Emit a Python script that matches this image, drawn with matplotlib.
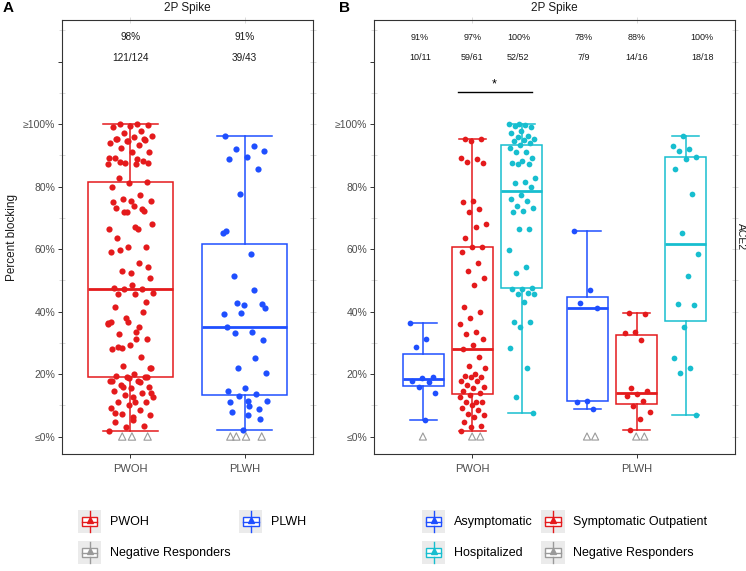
import numpy as np
import matplotlib.pyplot as plt
from matplotlib.patches import Rectangle
from matplotlib.lines import Line2D
from matplotlib.legend_handler import HandlerBase

plt.rcParams.update({
    "font.family": ["Liberation Sans", "DejaVu Sans"],
    "font.size": 8,
    "axes.linewidth": 0.8,
    "axes.edgecolor": "#333333",
})

C_RED = "#E41A1C"
C_BLUE = "#1F4FFF"
C_CYAN = "#17BECF"
C_GRAY = "#9A9A9A"
C_TXT = "#4D4D4D"
C_FAINT = "#D5D5D5"

# ---- data (percent blocking, responders only) ----------------------------
groups = ["PWOH", "PLWH"]
subgroups = ["Asymptomatic", "Symptomatic Outpatient", "Hospitalized"]

pwoh_asym = [36.4, 31.1, 28.7, 18.9, 18.8, 17.8, 17.4, 15.9, 13.8, 5.3]
pwoh_symp = [95.2, 95.2, 94.5, 89.2, 88.7, 88.0, 87.6, 75.4, 75.1, 72.8,
             71.7, 67.9, 67.1, 63.6, 60.5, 60.5, 59.1, 55.5, 53.0, 50.6,
             48.5, 41.3, 39.9, 37.8, 36.0, 33.3, 32.8, 31.1, 29.3, 27.9,
             25.5, 22.6, 22.0, 20.0, 19.4, 19.0, 18.9, 17.9, 17.9, 16.5,
             15.7, 15.5, 14.7, 14.0, 13.3, 12.5, 11.1, 11.1, 11.1, 10.1,
             9.0, 8.5, 7.2, 6.8, 6.3, 4.6, 3.5, 2.9, 1.8]
pwoh_hosp = [100.0, 100.0, 99.7, 99.5, 98.9, 97.8, 97.2, 96.2, 95.9, 95.1,
             94.9, 94.7, 93.8, 93.3, 92.2, 91.1, 90.9, 89.0, 88.3, 87.4,
             87.2, 87.1, 82.8, 81.3, 81.2, 79.9, 77.3, 76.0, 75.5, 73.9,
             73.0, 72.3, 71.9, 66.5, 66.3, 59.7, 54.3, 52.2, 47.5, 47.2,
             47.1, 46.0, 45.6, 45.6, 43.1, 36.7, 36.5, 34.9, 28.2, 21.8,
             12.5, 7.4]
plwh_asym = [65.9, 46.9, 42.6, 41.0, 11.5, 11.1, 8.7]
plwh_symp = [39.4, 39.1, 33.5, 33.0, 30.9, 15.6, 14.6, 13.5, 13.1, 11.5,
             9.9, 7.9, 5.5, 2.1]
plwh_hosp = [96.2, 93.0, 92.0, 91.3, 89.5, 88.9, 85.6, 77.6, 65.1, 58.3,
             51.5, 42.4, 42.2, 35.1, 25.0, 22.0, 20.2, 6.9]

# negative responders (plotted at <=0%)
pwoh_neg = [1, 2, 0]
plwh_neg = [2, 2, 0]

data_b = [[pwoh_asym, pwoh_symp, pwoh_hosp], [plwh_asym, plwh_symp, plwh_hosp]]
neg_b = [pwoh_neg, plwh_neg]
data_a = [pwoh_asym + pwoh_symp + pwoh_hosp, plwh_asym + plwh_symp + plwh_hosp]
neg_a = [sum(pwoh_neg), sum(plwh_neg)]

yticks = [0, 20, 40, 60, 80, 100, 120]
yticklabels = ["\u22640%", "20%", "40%", "60%", "80%", "\u2265100%", ""]

sub_colors = [C_BLUE, C_RED, C_CYAN]
grp_colors = [C_RED, C_BLUE]

# ---- layout ---------------------------------------------------------------
W, H = 746, 571
fig = plt.figure(figsize=(W / 100, H / 100), dpi=100)


def px_axes(x0, x1, y0, y1):
    return fig.add_axes([x0 / W, 1 - y1 / H, (x1 - x0) / W, (y1 - y0) / H])


ax_a = px_axes(62, 313, 20, 454)
ax_b = px_axes(374, 735, 20, 454)


def jitter(n, width, phase=0.0):
    k = (np.arange(n) * 0.6180339887 + phase) % 1.0
    return (k - 0.5) * 2 * width


def draw_box(ax, vals, pos, width, cap, color):
    ax.boxplot([vals], positions=[pos], widths=width, capwidths=[cap],
               showfliers=False, patch_artist=True, manage_ticks=False,
               boxprops=dict(facecolor="white", edgecolor=color, linewidth=1.1),
               whiskerprops=dict(color=color, linewidth=1.1),
               capprops=dict(color=color, linewidth=1.1),
               medianprops=dict(color=color, linewidth=2.0),
               zorder=2)


def style_axes(ax):
    ax.set_xlim(0.4, 2.6)
    ax.set_ylim(-5.6, 133.3)
    ax.set_xticks([1, 2])
    ax.set_xticklabels(groups, fontsize=8, color=C_TXT)
    ax.set_yticks(yticks)
    ax.set_yticklabels(yticklabels, fontsize=7.5, color=C_TXT)
    ax.set_yticks(np.arange(10, 131, 20), minor=True)
    ax.tick_params(axis="both", which="major", length=3, width=0.7,
                   color="#333333", pad=2)
    ax.tick_params(axis="x", which="major", pad=4)
    ax.tick_params(axis="y", which="minor", left=True, direction="inout",
                   length=5, width=0.6, color=C_FAINT)
    # faint marks on the right and top borders
    right = ax.secondary_yaxis("right")
    right.set_yticks(list(range(0, 131, 10)))
    right.tick_params(direction="inout", length=5, width=0.6, color=C_FAINT,
                      labelright=False)
    right.spines["right"].set_visible(False)
    top = ax.secondary_xaxis("top")
    top.set_xticks([1, 2])
    top.tick_params(direction="inout", length=5, width=0.6, color=C_FAINT,
                    labeltop=False)
    top.spines["top"].set_visible(False)
    for s in ax.spines.values():
        s.set_linewidth(0.8)
    ax.text(0.5, 1.028, "2P Spike", transform=ax.transAxes, ha="center",
            va="center", fontsize=8.5, color="#1A1A1A")


# ---- panel A --------------------------------------------------------------
for i, (vals, color) in enumerate(zip(data_a, grp_colors)):
    pos = i + 1
    draw_box(ax_a, vals, pos, 0.75, 0.48, color)
    ax_a.scatter(pos + jitter(len(vals), 0.2, 0.1 * i), vals, s=20,
                 color=color, linewidths=0, zorder=3)
    nneg = neg_a[i]
    ax_a.scatter(pos + jitter(nneg, 0.18, 0.3), np.zeros(nneg), marker="^",
                 s=28, facecolors="none", edgecolors=C_GRAY, linewidths=0.8,
                 zorder=3)
    n_tot = len(vals) + nneg
    ax_a.text(pos, 127.8, f"{round(100 * len(vals) / n_tot)}%", ha="center",
              va="center", fontsize=7.2, color="#1A1A1A")
    ax_a.text(pos, 121.2, f"{len(vals)}/{n_tot}", ha="center", va="center",
              fontsize=7.2, color="#1A1A1A")

style_axes(ax_a)

# ---- panel B --------------------------------------------------------------
dodge = [-0.3, 0.0, 0.3]
label_x_b = [[0.68, 1.0, 1.28], [1.68, 2.0, 2.4]]
for i in range(2):
    for j in range(3):
        vals = data_b[i][j]
        pos = i + 1 + dodge[j]
        color = sub_colors[j]
        draw_box(ax_b, vals, pos, 0.25, 0.165, color)
        ax_b.scatter(pos + jitter(len(vals), 0.08, 0.2 * j), vals, s=17,
                     color=color, linewidths=0, zorder=3)
        nneg = neg_b[i][j]
        if nneg:
            ax_b.scatter(pos + 0.03 + jitter(nneg, 0.04, 0.1), np.zeros(nneg),
                         marker="^", s=26, facecolors="none",
                         edgecolors=C_GRAY, linewidths=0.8, zorder=3)
        n_tot = len(vals) + nneg
        ax_b.text(label_x_b[i][j], 127.8, f"{round(100 * len(vals) / n_tot)}%",
                  ha="center", va="center", fontsize=6.5, color="#1A1A1A")
        ax_b.text(label_x_b[i][j], 121.2, f"{len(vals)}/{n_tot}",
                  ha="center", va="center", fontsize=6.5, color="#1A1A1A")

# significance bracket: Symptomatic vs Hospitalized (PWOH)
ax_b.plot([0.91, 1.36], [110.2, 110.2], color="black", lw=1.0)
ax_b.text(1.135, 112.6, "*", ha="center", va="center", fontsize=9)

style_axes(ax_b)

# ---- figure texts ---------------------------------------------------------
fig.text(740.5 / W, 1 - 237 / H, "ACE2", rotation=-90, ha="center",
         va="center", fontsize=7.5, color="#1A1A1A")
fig.text(12 / W, 1 - 237 / H, "Percent blocking", rotation=90, ha="center",
         va="center", fontsize=8.5, color="#1A1A1A")
fig.text(3 / W, 1 - 8 / H, "A", fontsize=11, fontweight="bold", va="center")
fig.text(339 / W, 1 - 8 / H, "B", fontsize=11, fontweight="bold", va="center")


# ---- legends --------------------------------------------------------------
class BoxKey(HandlerBase):
    def create_artists(self, legend, orig_handle, xdescent, ydescent,
                       width, height, fontsize, trans):
        c = orig_handle.get_color()
        x0, y0 = -xdescent, -ydescent
        xm = x0 + width / 2
        bg = Rectangle((x0, y0), width, height, facecolor="#EBEBEB",
                       edgecolor="none", transform=trans)
        bx = Rectangle((x0 + 0.16 * width, y0 + 0.3 * height), 0.68 * width,
                       0.4 * height, facecolor="white", edgecolor=c, lw=1.0,
                       transform=trans)
        wl = Line2D([xm, xm], [y0 + 0.06 * height, y0 + 0.3 * height],
                    color=c, lw=1.0, transform=trans)
        wu = Line2D([xm, xm], [y0 + 0.7 * height, y0 + 0.94 * height],
                    color=c, lw=1.0, transform=trans)
        med = Line2D([x0 + 0.16 * width, x0 + 0.84 * width],
                     [y0 + 0.47 * height] * 2, color=c, lw=1.0, transform=trans)
        tri = Line2D([xm], [y0 + 0.55 * height], marker="^", color=c, ms=5,
                     lw=0, transform=trans)
        return [bg, bx, wl, wu, med, tri]


def make_legend(labels, colors, x_px):
    handles = [Line2D([], [], color=c, label=l) for l, c in zip(labels, colors)]
    fig.legend(handles=handles, loc="upper left",
               bbox_to_anchor=(x_px / W, 1 - 510 / H), ncol=2, frameon=False,
               fontsize=9, borderpad=0, borderaxespad=0,
               handlelength=1.85, handleheight=2.45, handletextpad=0.7,
               labelspacing=0.64, columnspacing=0.7,
               handler_map={Line2D: BoxKey()})


make_legend(["PWOH", "Negative Responders", "PLWH"],
            [C_RED, C_GRAY, C_BLUE], 78)
make_legend(["Asymptomatic", "Hospitalized", "Symptomatic Outpatient",
             "Negative Responders"],
            [C_BLUE, C_CYAN, C_RED, C_GRAY], 422)

fig.savefig("out.png", dpi=100)
